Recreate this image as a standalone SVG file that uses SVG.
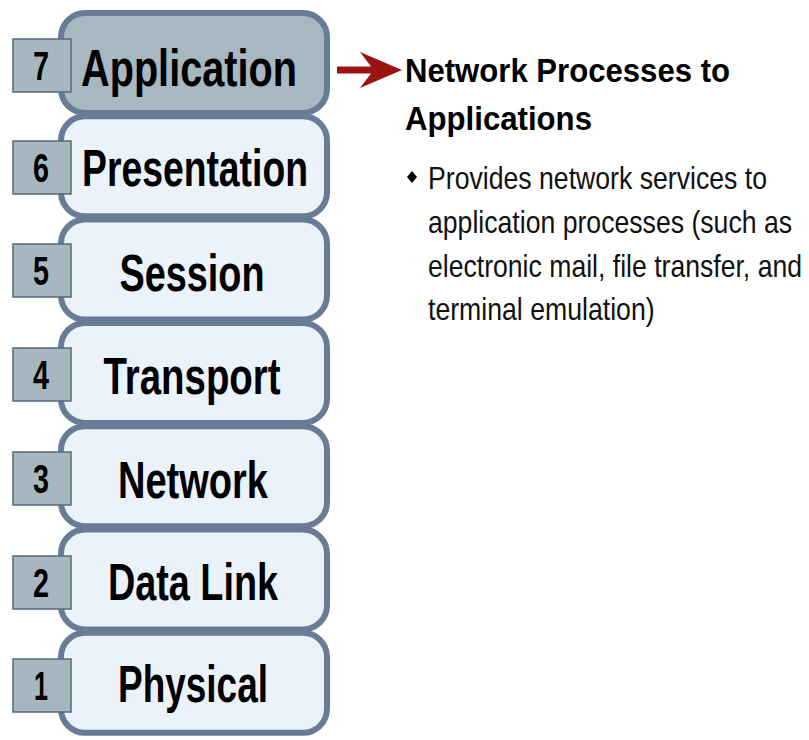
<svg xmlns="http://www.w3.org/2000/svg" width="809" height="740" viewBox="0 0 809 740">
<style>
.layer{fill:#ebf2f9;stroke:#687c95;stroke-width:6}
.active{fill:#a8b8c1}
.num{fill:#a7b7bf;stroke:#56697a;stroke-width:1.5}
.digit{font-family:"Liberation Sans",Arial,sans-serif;font-weight:bold;font-size:41px;fill:#000;text-anchor:middle}
.lbl{font-family:"Liberation Sans",Arial,sans-serif;font-weight:bold;font-size:52px;fill:#000;text-anchor:middle}
.head{font-family:"Liberation Sans",Arial,sans-serif;font-weight:bold;font-size:34px;fill:#000}
.body{font-family:"Liberation Sans",Arial,sans-serif;font-size:32px;fill:#111}
</style>
<rect width="809" height="740" fill="#fff"/>
<g id="layer7">
<rect class="layer active" x="61" y="13" width="266" height="100" rx="24"/>
<rect class="num" x="13" y="39" width="58" height="53"/>
<text class="digit" x="41" y="80" textLength="16" lengthAdjust="spacingAndGlyphs">7</text>
<text class="lbl" x="189" y="86" textLength="216" lengthAdjust="spacingAndGlyphs">Application</text>
</g>
<g id="layer6">
<rect class="layer" x="61" y="116.3" width="266" height="100" rx="24"/>
<rect class="num" x="13" y="141" width="58" height="53"/>
<text class="digit" x="41" y="182" textLength="16" lengthAdjust="spacingAndGlyphs">6</text>
<text class="lbl" x="195" y="186" textLength="226" lengthAdjust="spacingAndGlyphs">Presentation</text>
</g>
<g id="layer5">
<rect class="layer" x="61" y="219.6" width="266" height="100" rx="24"/>
<rect class="num" x="13" y="244" width="58" height="53"/>
<text class="digit" x="41" y="285" textLength="16" lengthAdjust="spacingAndGlyphs">5</text>
<text class="lbl" x="192" y="291" textLength="145" lengthAdjust="spacingAndGlyphs">Session</text>
</g>
<g id="layer4">
<rect class="layer" x="61" y="322.9" width="266" height="100" rx="24"/>
<rect class="num" x="13" y="348" width="58" height="53"/>
<text class="digit" x="41" y="389" textLength="16" lengthAdjust="spacingAndGlyphs">4</text>
<text class="lbl" x="192" y="394" textLength="177" lengthAdjust="spacingAndGlyphs">Transport</text>
</g>
<g id="layer3">
<rect class="layer" x="61" y="426.2" width="266" height="100" rx="24"/>
<rect class="num" x="13" y="452" width="58" height="53"/>
<text class="digit" x="41" y="493" textLength="16" lengthAdjust="spacingAndGlyphs">3</text>
<text class="lbl" x="193" y="498" textLength="150" lengthAdjust="spacingAndGlyphs">Network</text>
</g>
<g id="layer2">
<rect class="layer" x="61" y="529.5" width="266" height="100" rx="24"/>
<rect class="num" x="13" y="556" width="58" height="53"/>
<text class="digit" x="41" y="597" textLength="16" lengthAdjust="spacingAndGlyphs">2</text>
<text class="lbl" x="193" y="600" textLength="170" lengthAdjust="spacingAndGlyphs">Data Link</text>
</g>
<g id="layer1">
<rect class="layer" x="61" y="632.8" width="266" height="100" rx="24"/>
<rect class="num" x="13" y="659" width="58" height="53"/>
<text class="digit" x="41" y="700" textLength="14" lengthAdjust="spacingAndGlyphs">1</text>
<text class="lbl" x="193" y="702" textLength="150" lengthAdjust="spacingAndGlyphs">Physical</text>
</g>
<g id="connectors">
<path d="M337,66.5 L371,66.5 L360,52 L402,70 L360,88 L371,73.5 L337,73.5 Z" fill="#9a1212"/>
</g>
<g id="description">
<text class="head" x="405" y="82" textLength="325" lengthAdjust="spacingAndGlyphs">Network Processes to</text>
<text class="head" x="405" y="130" textLength="187" lengthAdjust="spacingAndGlyphs">Applications</text>
<path d="M412,171 L417,177 L412,183 L407,177 Z" fill="#000"/>
<g transform="translate(428,0) scale(0.833,1)">
<text class="body" x="0" y="189" textLength="407" lengthAdjust="spacingAndGlyphs">Provides network services to</text>
<text class="body" x="0" y="233" textLength="437" lengthAdjust="spacingAndGlyphs">application processes (such as</text>
<text class="body" x="0" y="277" textLength="449" lengthAdjust="spacingAndGlyphs">electronic mail, file transfer, and</text>
<text class="body" x="0" y="320" textLength="272" lengthAdjust="spacingAndGlyphs">terminal emulation)</text>
</g>
</g>
</svg>
